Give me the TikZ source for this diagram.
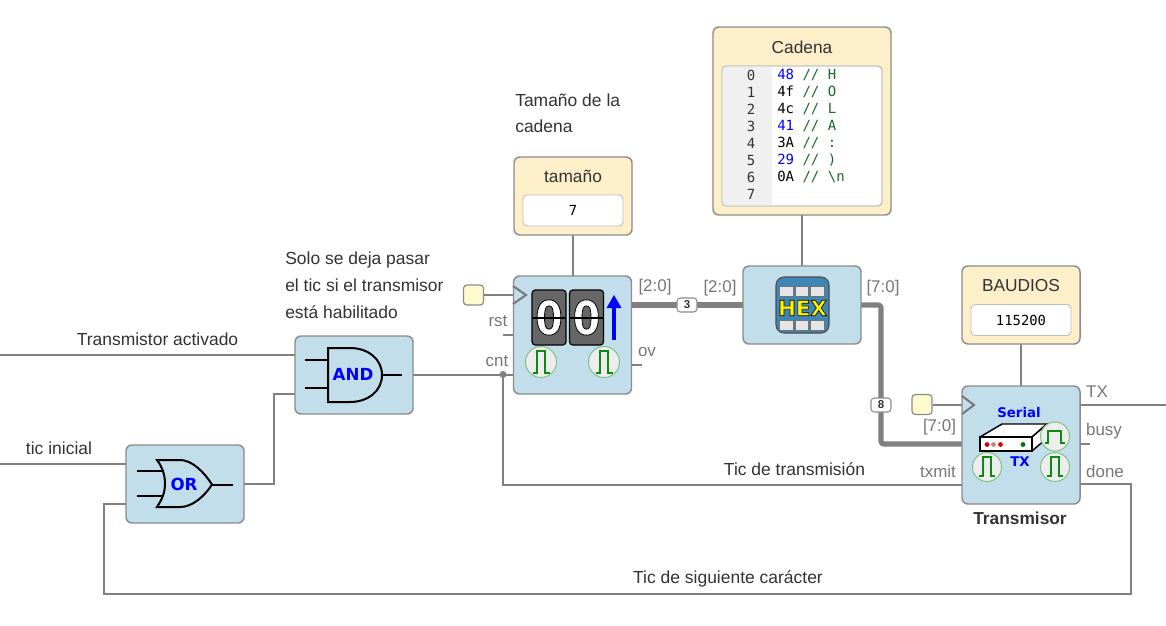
\documentclass[tikz,border=0pt]{standalone}
\usepackage{fontspec}
\setmainfont{Liberation Sans}
\newfontfamily\codefont{DejaVu Sans Mono}
\newfontfamily\uifont{DejaVu Sans}
\newfontfamily\flipfont[FakeStretch=0.85]{DejaVu Sans}
\definecolor{boxblue}{HTML}{C1DEEA}
\definecolor{boxcream}{HTML}{FCEFCA}
\definecolor{clockfill}{HTML}{FDFACD}
\definecolor{edgegray}{HTML}{8C8C8C}
\definecolor{wiregray}{HTML}{808080}
\definecolor{labelgray}{HTML}{777777}
\definecolor{inkgray}{HTML}{333333}
\definecolor{digitgray}{HTML}{666666}
\definecolor{gutter}{HTML}{F0F0F0}
\definecolor{pulsegreen}{HTML}{0B8A12}
\definecolor{pulseedge}{HTML}{7DBE82}
\definecolor{pulsefill}{HTML}{EDEDED}
\definecolor{codegreen}{HTML}{1A6A2A}
\definecolor{hexblue}{HTML}{3F86B5}
\definecolor{cellgray}{HTML}{E6E6E6}
\newcommand{\outlined}[2]{\special{pdf:code 2 Tr #1 w 0 0 0 RG}#2\special{pdf:code 0 Tr}}
\tikzset{
  x=.75pt,y=-.75pt,
  compbox/.style={draw=edgegray,fill=boxblue,line width=1.1pt,rounded corners=4.5pt,inner sep=0pt,
    minimum width=118*.75pt,minimum height=118*.75pt},
  gatebox/.style={compbox,minimum height=78*.75pt},
  paramcard/.style={draw=edgegray,fill=boxcream,line width=1.1pt,rounded corners=4.5pt,inner sep=0pt,
    minimum width=118*.75pt,minimum height=78*.75pt},
  valuebox/.style={draw=black!25,fill=white,line width=.7pt,rounded corners=3pt,inner sep=0pt,
    minimum width=100*.75pt,minimum height=31*.75pt,font=\codefont\fontsize{10.4}{12}\selectfont,text=black},
  clockbox/.style={draw=edgegray,fill=clockfill,line width=.9pt,rounded corners=2.5pt,inner sep=0pt,
    minimum width=20*.75pt,minimum height=20*.75pt},
  wire/.style={draw=wiregray,line width=1.5pt},
  bus/.style={draw=wiregray,line width=3.9pt,line join=round},
  gateline/.style={draw=black,line width=1.5pt},
  buswidth/.style={draw=edgegray,fill=white,line width=.8pt,rounded corners=2.5pt,inner sep=0pt,
    minimum width=20*.75pt,minimum height=14*.75pt,font=\bfseries\fontsize{8.6}{9}\selectfont,text=inkgray},
  port/.style={text=labelgray,font=\fontsize{12.7}{14}\selectfont,inner sep=0pt,yshift=-.4pt},
  note/.style={text=inkgray,font=\fontsize{13.1}{15}\selectfont,inner sep=0pt,yshift=-.5pt},
  cardtitle/.style={text=inkgray,font=\fontsize{13}{15}\selectfont,inner sep=0pt,yshift=-.3pt},
  gatetext/.style={text=blue,font=\uifont\bfseries\fontsize{12.5}{14}\selectfont,inner sep=0pt},
  icontext/.style={text=blue,font=\uifont\bfseries\fontsize{10}{12}\selectfont,inner sep=0pt},
  codeline/.style={anchor=west,inner sep=0pt,font=\codefont\fontsize{10.5}{12}\selectfont},
  gutternum/.style={inner sep=0pt,text=inkgray,font=\codefont\fontsize{10.5}{12}\selectfont},
  flipbox/.style={draw=black,fill=digitgray,line width=.9pt,rounded corners=2.5pt,inner sep=0pt,
    minimum width=34*.75pt,minimum height=55*.75pt},
  flipdigit/.style={inner sep=0pt,text=white,font=\flipfont\bfseries\fontsize{35}{38}\selectfont},
  pulsedisc/.style={draw=pulseedge,fill=pulsefill,line width=.7pt,circle,inner sep=0pt,minimum size=31*.75pt},
  pulseline/.style={draw=pulsegreen,line width=1.2pt,line join=miter},
  junction/.style={circle,fill=wiregray,inner sep=0pt,minimum size=7*.75pt},
  cell/.style={draw=black!55,fill=cellgray,line width=.5pt,inner sep=0pt,minimum width=13.5*.75pt,minimum height=10*.75pt},
}
\begin{document}
\begin{tikzpicture}
\useasboundingbox[fill=white] (0,0) rectangle (1166,625);

% ---- free ends and wire bends
\coordinate (leftA) at (0,355);
\coordinate (leftB) at (0,464);
\coordinate (rightTX) at (1166,405);
\coordinate (tickTop) at (503,374.5);
\coordinate (tickTurn) at (503,485);
\coordinate (doneA) at (1131,484);
\coordinate (doneB) at (1131,594);
\coordinate (doneC) at (104,594);
\coordinate (doneD) at (104,504);
\coordinate (orA) at (274,484);
\coordinate (orB) at (274,394);

% ---- wires below the boxes
\draw[wire] (leftA) -- (295,355);
\draw[wire] (leftB) -- (126,464);
\draw[wire] (244,484) -- (orA) -- (orB) -- (295,394);
\draw[wire] (413,374.5) -- (513,374.5);
\draw[wire] (tickTop) -- (tickTurn) -- (962,485);
\node[junction] (cntdot) at (tickTop) {};
\draw[wire] (1080,484) -- (doneA) -- (doneB) -- (doneC) -- (doneD) -- (126,504);
\draw[wire] (1080,405) -- (rightTX);
\draw[wire] (1080,444) -- (1090,444);
\draw[wire] (503,335) -- (513,335);
\draw[wire] (632,364.5) -- (642,364.5);
\draw[wire] (573,235) -- (573,276);
\draw[wire] (802,215) -- (802,266);
\draw[wire] (1021,344) -- (1021,386);
\draw[bus] (632,305) -- (743,305);
\draw[bus,rounded corners=2pt] (861,305) -- (881,305) -- (881,444) -- (962,444);

% ---- parameter cards
\node[paramcard] (sizecard) at (573,196) {};
\node[cardtitle] (sizetitle) at (573,176) {tamaño};
\node[valuebox] (sizeval) at (573,210.5) {7};

\node[paramcard] (baudcard) at (1021,305) {};
\node[cardtitle] (baudtitle) at (1021,285) {BAUDIOS};
\node[valuebox] (baudval) at (1021,320) {115200};

\node[paramcard,minimum width=178*.75pt,minimum height=188*.75pt] (romcard) at (802,121) {};
\node[cardtitle] (romtitle) at (802,47) {Cadena};
\node[valuebox,minimum width=160*.75pt,minimum height=140*.75pt] (romframe) at (802,136) {};
\begin{scope}
  \clip[rounded corners=3pt] (722,66) rectangle (882,206);
  \fill[gutter] (722,66) rectangle (772,206);
\end{scope}
\draw[draw=black!25,line width=.7pt,rounded corners=3pt] (722,66) rectangle (882,206);
\node[gutternum] (g0) at (751,75) {0};
\node[gutternum] (g1) at (751,92) {1};
\node[gutternum] (g2) at (751,109) {2};
\node[gutternum] (g3) at (751,126) {3};
\node[gutternum] (g4) at (751,143) {4};
\node[gutternum] (g5) at (751,160) {5};
\node[gutternum] (g6) at (751,177) {6};
\node[gutternum] (g7) at (751,194) {7};
\node[codeline] (c0) at (777,75) {\textcolor{blue}{48} \textcolor{codegreen}{// H}};
\node[codeline] (c1) at (777,92) {4f \textcolor{codegreen}{// O}};
\node[codeline] (c2) at (777,109) {4c \textcolor{codegreen}{// L}};
\node[codeline] (c3) at (777,126) {\textcolor{blue}{41} \textcolor{codegreen}{// A}};
\node[codeline] (c4) at (777,143) {3A \textcolor{codegreen}{// :}};
\node[codeline] (c5) at (777,160) {\textcolor{blue}{29} \textcolor{codegreen}{// )}};
\node[codeline] (c6) at (777,177) {0A \textcolor{codegreen}{// \textbackslash n}};

% ---- gates
\node[gatebox] (andbox) at (354,375) {};
\draw[gateline] (305,360) -- (328,360) (305,388) -- (328,388) (382,374.5) -- (402,374.5);
\draw[gateline] (328,348) -- (350,348) .. controls (368,348) and (382,359) .. (382,375)
  .. controls (382,391) and (368,402) .. (350,402) -- (328,402) -- cycle;
\node[gatetext] (andtext) at (353,374) {AND};

\node[gatebox] (orbox) at (185,484) {};
\draw[gateline] (137,471) -- (163,471) (137,496) -- (163,496) (212,484.5) -- (233,484.5);
\draw[gateline] (157,460) -- (180,460) .. controls (192,460) and (204,472) .. (212,484.5)
  .. controls (204,497) and (192,507) .. (180,507) -- (157,507)
  .. controls (163,498) and (165,491) .. (165,484) .. controls (165,476) and (163,468) .. (157,460) -- cycle;
\node[gatetext] (ortext) at (184,484) {OR};

% ---- counter
\node[compbox] (counter) at (572.5,335) {};
\node[clockbox] (clkA) at (473.5,295) {};
\draw[wire] (clkA) -- (513,295);
\draw[draw=labelgray,line width=1.5pt,line join=miter] (513,286) -- (526,295) -- (513,304);
\node[flipbox] (flipA) at (549,317.5) {};
\node[flipbox] (flipB) at (586.5,317.5) {};
\node[flipdigit] (digA) at (549,317.5) {\outlined{.6}{0}};
\node[flipdigit] (digB) at (586.5,317.5) {\outlined{.6}{0}};
\draw[draw=black,line width=.9pt] (532,318) -- (566,318) (569.5,318) -- (603.5,318);
\draw[draw=blue,line width=2.4pt] (614,340) -- (614,305);
\fill[blue] (614,295) -- (621.5,308) -- (606.5,308) -- cycle;
\node[pulsedisc] (pa) at (541,362) {};
\draw[pulseline] (533,373) -- (537,373) -- (537,351) -- (545,351) -- (545,373) -- (550,373);
\node[pulsedisc] (pb) at (604,362) {};
\draw[pulseline] (596,373) -- (600,373) -- (600,351) -- (608,351) -- (608,373) -- (613,373);

% ---- hex ROM
\node[gatebox] (hexbox) at (802,305) {};
\fill[hexblue,draw=black!70,line width=.8pt,rounded corners=6pt] (776,277) rectangle (829,333);
\node[cell] (h1) at (786.5,291.5) {};
\node[cell] (h2) at (802,291.5) {};
\node[cell] (h3) at (817.5,291.5) {};
\node[cell] (h4) at (786.5,325) {};
\node[cell] (h5) at (802,325) {};
\node[cell] (h6) at (817.5,325) {};
\node[inner sep=0pt,text=yellow,font=\uifont\bfseries\fontsize{16}{18}\selectfont] (hextext) at (802.5,308) {\outlined{.45}{HEX}};

% ---- transmitter
\node[compbox] (tx) at (1021,445) {};
\node[clockbox] (clkB) at (922,404.5) {};
\draw[wire] (clkB) -- (962,404.5);
\draw[draw=labelgray,line width=1.5pt,line join=miter] (962,396) -- (974,405) -- (962,414);
\node[icontext] (serial) at (1019,413) {Serial};
\node[icontext] (txt) at (1020,462) {TX};
\draw[draw=black,fill=white,line width=1.1pt,line join=round] (980,437) -- (1002,424) -- (1047,424) -- (1032,437) -- cycle;
\draw[draw=black,fill=white,line width=1.1pt,line join=round] (1032,437) -- (1047,424) -- (1047,438) -- (1032,451) -- cycle;
\draw[draw=black,fill=white,line width=1.1pt] (980,437) rectangle (1032,451);
\fill[red!85!black] (987,444.5) circle (2.4);
\fill[red!40!gray!70] (993.5,444.5) circle (2.4);
\fill[red!85!black] (1000.5,444.5) circle (2.4);
\fill[green!45!black] (1023,444.5) circle (2.4);
\node[pulsedisc,minimum size=29*.75pt] (pc) at (1055,436.5) {};
\draw[pulseline] (1045,443) -- (1048,443) -- (1048,431) -- (1061,431) -- (1061,443) -- (1065,443);
\node[pulsedisc,minimum size=29*.75pt] (pd) at (987,467) {};
\draw[pulseline] (979,476) -- (983,476) -- (983,457) -- (991,457) -- (991,476) -- (995,476);
\node[pulsedisc,minimum size=29*.75pt] (pe) at (1055,467) {};
\draw[pulseline] (1047,476) -- (1051,476) -- (1051,457) -- (1059,457) -- (1059,476) -- (1063,476);
\node[inner sep=0pt,text=inkgray,font=\bfseries\fontsize{13}{15}\selectfont] (txname) at (1020,518) {Transmisor};

% ---- bus widths
\node[buswidth] (w3) at (687,305) {3};
\node[buswidth] (w8) at (881,405) {8};

% ---- port labels
\node[port] (l1) at (655,287) {[2:0]};
\node[port] (l2) at (720,288) {[2:0]};
\node[port] (l3) at (883,288) {[7:0]};
\node[port] (l4) at (939.5,427) {[7:0]};
\node[port] (l5) at (498,321) {rst};
\node[port] (l6) at (497,361) {cnt};
\node[port] (l7) at (647,351) {ov};
\node[port] (l8) at (938,471) {txmit};
\node[port] (l9) at (1097,391) {TX};
\node[port] (l10) at (1104,431) {busy};
\node[port] (l11) at (1105,471) {done};

% ---- notes
\node[note] (n1) at (157.5,339) {Transmistor activado};
\node[note] (n2) at (59,448) {tic inicial};
\node[note] (n3) at (794.5,468) {Tic de transmisión};
\node[note] (n4) at (728,578) {Tic de siguiente carácter};
\node[note,anchor=west] (n5) at (515,100) {Tamaño de la};
\node[note,anchor=west] (n6) at (515,126) {cadena};
\node[note,anchor=west] (n7) at (285,259) {Solo se deja pasar};
\node[note,anchor=west] (n8) at (285,285) {el tic si el transmisor};
\node[note,anchor=west] (n9) at (285,311) {está habilitado};
\end{tikzpicture}
\end{document}
